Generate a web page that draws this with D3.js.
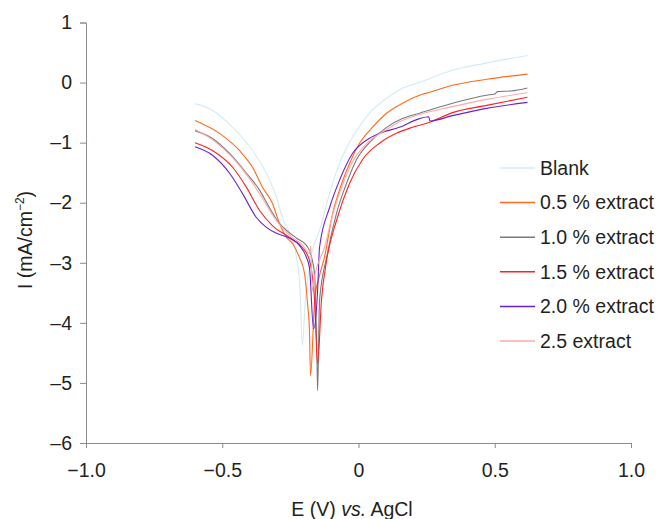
<!DOCTYPE html>
<html>
<head>
<meta charset="utf-8">
<script src="https://cdn.jsdelivr.net/npm/d3@7"></script>
<style>
  body { margin: 0; background: #fff; }
  svg { font-family: "Liberation Sans", Arial, sans-serif; }
</style>
</head>
<body>
<svg id="chart" width="657" height="519"></svg>
<script>
// series names and colours (legend order)
var seriesNames = ["Blank", "0.5 % extract", "1.0 % extract", "1.5 % extract", "2.0 % extract", "2.5 extract"];
var seriesColors = ["#d2eaf8", "#ff6a1c", "#7a7a7a", "#ff2222", "#6a22cc", "#ffa8a8"];

// [E (V), I]
var blank = [[-0.60,-0.35],[-0.536,-0.46],[-0.462,-0.745],[-0.389,-1.13],[-0.338,-1.51],[-0.301,-1.91],
  [-0.279,-2.25],[-0.253,-2.51],[-0.228,-2.9],[-0.215,-3.4],[-0.206,-4.38],[-0.195,-3.6],[-0.187,-3.3],
  [-0.169,-2.8],[-0.143,-2.46],[-0.106,-1.845],[-0.070,-1.35],[-0.022,-0.91],[0.040,-0.51],[0.103,-0.26],
  [0.161,-0.095],[0.224,0.005],[0.345,0.205],[0.462,0.32],[0.62,0.45]];
var ext05 = [[-0.60,-0.63],[-0.510,-0.845],[-0.437,-1.13],[-0.389,-1.41],[-0.352,-1.745],[-0.316,-2.01],
  [-0.290,-2.345],[-0.264,-2.58],[-0.242,-2.68],[-0.217,-2.91],[-0.198,-3.18],[-0.187,-3.68],[-0.180,-4.13],
  [-0.176,-4.88],[-0.161,-3.63],[-0.143,-3.21],[-0.125,-2.91],[-0.095,-2.18],[-0.070,-1.79],[-0.033,-1.35],
  [0.004,-1.01],[0.051,-0.745],[0.103,-0.51],[0.161,-0.345],[0.224,-0.21],[0.261,-0.16],[0.345,-0.045],
  [0.470,0.055],[0.62,0.14]];
var ext10 = [[-0.60,-0.80],[-0.536,-0.93],[-0.473,-1.18],[-0.411,-1.51],[-0.363,-1.79],[-0.327,-2.08],
  [-0.290,-2.345],[-0.264,-2.46],[-0.224,-2.6],[-0.191,-2.71],[-0.172,-2.91],[-0.161,-3.2],[-0.152,-4.7],
  [-0.150,-5.13],[-0.143,-3.63],[-0.117,-2.91],[-0.081,-2.18],[-0.044,-1.68],[-0.007,-1.28],[0.040,-1.0],
  [0.103,-0.745],[0.161,-0.60],[0.224,-0.51],[0.345,-0.345],[0.470,-0.21],[0.50,-0.19],[0.51,-0.15],
  [0.56,-0.14],[0.62,-0.09]];
var ext15 = [[-0.60,-1.0],[-0.536,-1.13],[-0.462,-1.41],[-0.411,-1.745],[-0.363,-2.13],[-0.316,-2.38],
  [-0.253,-2.58],[-0.206,-2.745],[-0.180,-2.96],[-0.161,-3.63],[-0.150,-4.68],[-0.136,-3.63],[-0.117,-2.96],
  [-0.081,-2.30],[-0.033,-1.68],[0.015,-1.28],[0.077,-1.01],[0.139,-0.845],[0.198,-0.745],[0.261,-0.66],
  [0.345,-0.50],[0.470,-0.38],[0.62,-0.245]];
var ext20 = [[-0.60,-1.07],[-0.536,-1.21],[-0.473,-1.51],[-0.426,-1.845],[-0.374,-2.25],[-0.338,-2.41],
  [-0.301,-2.51],[-0.253,-2.59],[-0.217,-2.71],[-0.191,-2.91],[-0.180,-3.08],[-0.165,-4.10],[-0.150,-3.46],
  [-0.143,-2.745],[-0.106,-2.08],[-0.070,-1.63],[-0.022,-1.18],[0.029,-0.96],[0.077,-0.845],[0.150,-0.745],
  [0.224,-0.60],[0.258,-0.57],[0.262,-0.64],[0.345,-0.55],[0.470,-0.43],[0.62,-0.33]];
var ext25 = [[-0.60,-0.78],[-0.536,-0.95],[-0.462,-1.25],[-0.400,-1.60],[-0.352,-1.93],[-0.316,-2.2],
  [-0.279,-2.42],[-0.242,-2.58],[-0.206,-2.70],[-0.180,-2.85],[-0.175,-2.72],[-0.170,-3.47],[-0.160,-3.2],
  [-0.125,-2.75],[-0.095,-2.2],[-0.060,-1.72],[-0.022,-1.32],[0.029,-1.02],[0.103,-0.78],[0.161,-0.63],
  [0.224,-0.53],[0.345,-0.40],[0.470,-0.28],[0.62,-0.17]];
var seriesData = [blank, ext05, ext10, ext15, ext20, ext25];

var xTicks = [-1.0, -0.5, 0, 0.5, 1.0];
var yTicks = [1, 0, -1, -2, -3, -4, -5, -6];

var chart = d3.select("#chart");
var textColor = "#231f20";
var axisColor = "#8c8c8c";
var fontSize = "19.5px";

var x = d3.scaleLinear().domain([-1, 1]).range([86, 631]);
var y = d3.scaleLinear().domain([-6, 1]).range([443, 22.5]);

// y axis
var yAxisGroup = chart.append("g")
    .attr("transform", "translate(86,0)")
    .call(d3.axisLeft(y).tickValues(yTicks).tickSize(6).tickPadding(8)
        .tickFormat(function(d) { return String(d).replace("-", "\u2013"); }));

// x axis
var xAxisGroup = chart.append("g")
    .attr("transform", "translate(0,443)")
    .call(d3.axisBottom(x).tickValues(xTicks).tickSize(5).tickPadding(15)
        .tickFormat(function(d) { return d === 0 ? "0" : d3.format(".1f")(d).replace("-", "\u2013"); }));

chart.selectAll(".domain, .tick line")
    .attr("stroke", axisColor)
    .attr("stroke-width", 1);
chart.selectAll(".tick text")
    .style("font-size", fontSize)
    .style("font-family", "'Liberation Sans', Arial, sans-serif")
    .attr("fill", textColor);

// curves
var line = d3.line()
    .x(function(d) { return x(d[0]); })
    .y(function(d) { return y(d[1]); })
    .curve(d3.curveMonotoneX);

chart.selectAll("path.series")
    .data(seriesData)
    .enter()
    .append("path")
      .attr("class", "series")
      .attr("d", line)
      .attr("fill", "none")
      .attr("stroke", function(d, i) { return seriesColors[i]; })
      .attr("stroke-width", 1.1);

// legend
var legend = chart.append("g");
var rows = legend.selectAll("g")
    .data(seriesNames)
    .enter()
    .append("g")
      .attr("transform", function(d, i) { return "translate(500," + (168 + i * 34.6) + ")"; });
rows.append("line")
    .attr("x1", 0).attr("x2", 35)
    .attr("stroke", function(d, i) { return seriesColors[i]; })
    .attr("stroke-width", 1.5);
rows.append("text")
    .attr("x", 40)
    .attr("dy", "0.35em")
    .style("font-size", fontSize)
    .attr("fill", textColor)
    .text(function(d) { return d; });

// axis titles
var xTitle = chart.append("text")
    .attr("x", 352)
    .attr("y", 516)
    .style("font-size", fontSize)
    .style("text-anchor", "middle")
    .attr("fill", textColor);
xTitle.append("tspan").text("E (V) ");
xTitle.append("tspan").style("font-style", "italic").text("vs.");
xTitle.append("tspan").text(" AgCl");

var yTitle = chart.append("text")
    .attr("transform", "translate(32,240) rotate(-90)")
    .style("font-size", fontSize)
    .style("text-anchor", "middle")
    .attr("fill", textColor);
yTitle.append("tspan").text("I (mA/cm");
yTitle.append("tspan").attr("dy", -8).style("font-size", "12px").text("\u22122");
yTitle.append("tspan").attr("dy", 8).text(")");
</script>
</body>
</html>
